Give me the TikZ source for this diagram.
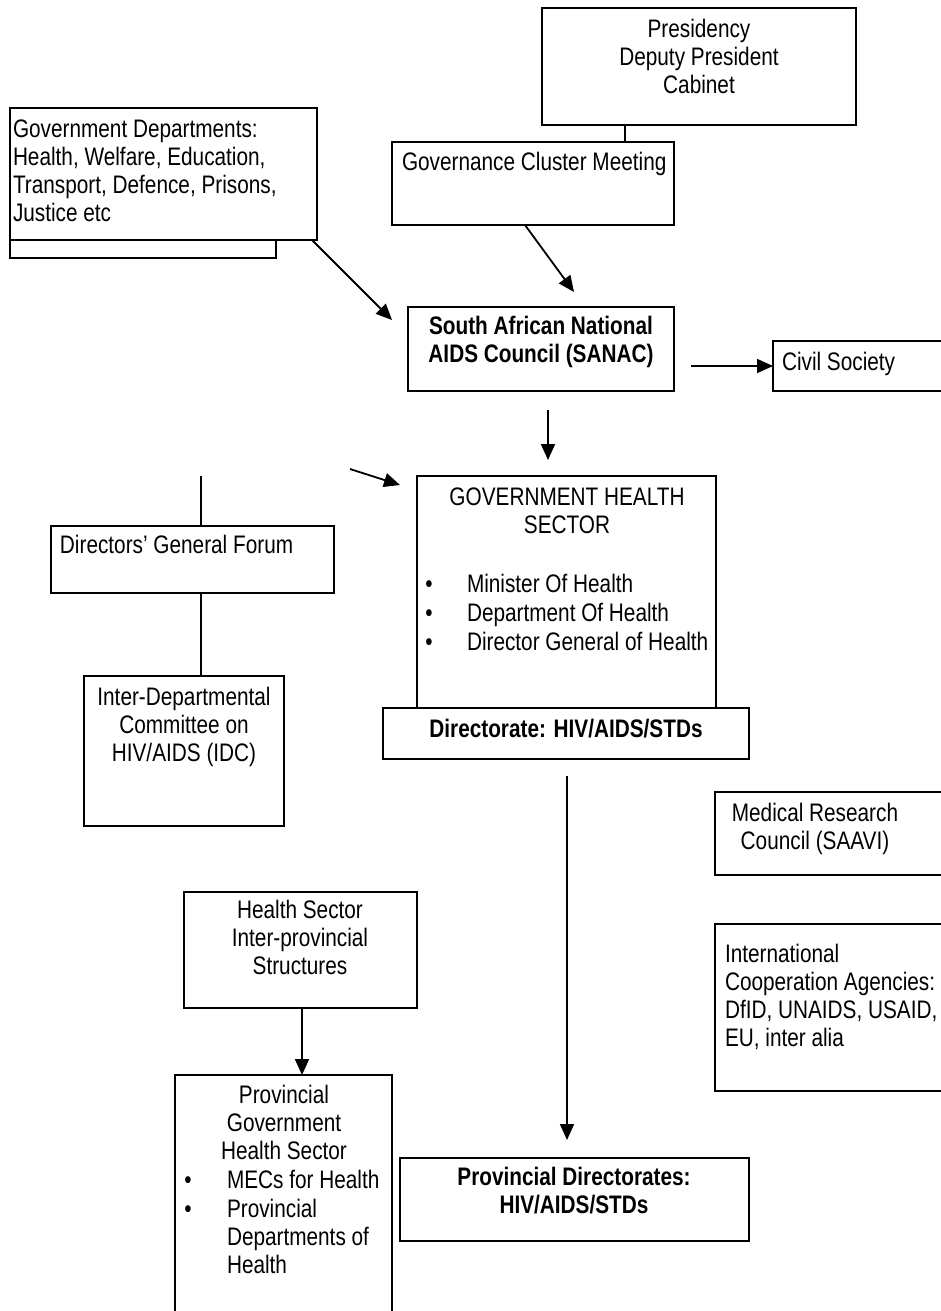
\documentclass[tikz,border=0pt]{standalone}
\usepackage{fontspec}
\setmainfont{Liberation Sans}[FakeStretch=0.82]
\usetikzlibrary{fit,arrows.meta}
\begin{document}
\begin{tikzpicture}[x=0.75pt,y=-0.75pt,
  every node/.style={inner sep=0pt, outer sep=0pt},
  txt/.style={font=\fontsize{19}{21}\selectfont},
  btxt/.style={font=\fontsize{19}{21}\selectfont\bfseries},
  box/.style={draw, line width=1.35pt, fit={#1}},
  conn/.style={line width=1.35pt},
  arr/.style={line width=1.35pt, -{Triangle[length=12pt,width=10.5pt]}}]
\useasboundingbox (0,0) rectangle (941,1311);
\clip (0,0) rectangle (941,1311);
% boxes
\node[box={(542,8)(856,125)}] (pres) {};
\node[box={(392,142)(674,225)}] (gov) {};
\node[box={(10,108)(317,240)}] (gd) {};
\node[box={(10,240)(276,258)}] (gdsub) {};
\node[box={(408,307)(674,391)}] (sanac) {};
\node[box={(773,341)(960,391)}] (civil) {};
\node[box={(51,526)(334,593)}] (dg) {};
\node[box={(84,676)(284,826)}] (idc) {};
\node[box={(417,476)(716,708)}] (hs) {};
\node[box={(383,708)(749,759)}] (dir) {};
\node[box={(715,792)(960,875)}] (mrc) {};
\node[box={(715,924)(960,1091)}] (ica) {};
\node[box={(184,892)(417,1008)}] (hsip) {};
\node[box={(175,1075)(392,1340)}] (pgov) {};
\node[box={(400,1158)(749,1241)}] (pdir) {};
% texts (multi-line nodes are placed by the baseline of their last line)
\node[txt, anchor=base, align=center] (tpres) at (699,93) {Presidency\\Deputy President\\Cabinet};
\node[txt, anchor=base west] (tgov) at (402,170) {Governance Cluster Meeting};
\node[txt, anchor=base west, align=left] (tgd) at (13,221) {Government Departments:\\Health, Welfare, Education,\\Transport, Defence, Prisons,\\Justice etc};
\node[btxt, anchor=base, align=center] (tsanac) at (541,362) {South African National\\AIDS Council (SANAC)};
\node[txt, anchor=base west] (tcivil) at (782,370) {Civil Society};
\node[txt, anchor=base west] (tdg) at (60,553) {Directors’ General Forum};
\node[txt, anchor=base, align=center] (tidc) at (184,761) {Inter-Departmental\\Committee on\\HIV/AIDS (IDC)};
\node[txt, anchor=base, align=center] (ths) at (567,533) {GOVERNMENT HEALTH\\SECTOR};
\node[txt, anchor=base] (b1) at (429,592) {•};
\node[txt, anchor=base] (b2) at (429,621) {•};
\node[txt, anchor=base] (b3) at (429,650) {•};
\node[txt, anchor=base west] (i1) at (467,592) {Minister Of Health};
\node[txt, anchor=base west] (i2) at (467,621) {Department Of Health};
\node[txt, anchor=base west] (i3) at (467,650) {Director General of Health};
\node[btxt, anchor=base] (tdir) at (566,737) {Directorate: HIV/AIDS/STDs};
\node[txt, anchor=base, align=center] (tmrc) at (815,849) {Medical Research\\Council (SAAVI)};
\node[txt, anchor=base west, align=left] (tica) at (725,1046) {International\\Cooperation Agencies:\\DfID, UNAIDS, USAID,\\EU, inter alia};
\node[txt, anchor=base, align=center] (thsip) at (300,974) {Health Sector\\Inter-provincial\\Structures};
\node[txt, anchor=base, align=center] (tpgov) at (284,1159) {Provincial\\Government\\Health Sector};
\node[txt, anchor=base] (b4) at (188,1188) {•};
\node[txt, anchor=base] (b5) at (188,1217) {•};
\node[txt, anchor=base west] (i4) at (227,1188) {MECs for Health};
\node[txt, anchor=base west, align=left] (i5) at (227,1273) {Provincial\\Departments of\\Health};
\node[btxt, anchor=base, align=center] (tpdir) at (574,1213) {Provincial Directorates:\\HIV/AIDS/STDs};
% connector coordinates
\coordinate (x625) at (625,0);
\coordinate (x525) at (525,0);
\coordinate (a1t) at (574,292);
\coordinate (x312) at (312,0);
\coordinate (a2t) at (392,320);
\coordinate (x691) at (691,0);
\coordinate (a4s) at (548,410);
\coordinate (a4t) at (548,460);
\coordinate (l1) at (201,476);
\coordinate (a5s) at (350,469);
\coordinate (a5t) at (400,485);
\coordinate (a6s) at (567,776);
\coordinate (a6t) at (567,1140);
\coordinate (x302) at (302,0);
% connectors
\draw[conn] (pres.south -| x625) -- (gov.north -| x625);
\draw[arr] (gov.south -| x525) -- (a1t);
\draw[arr] (gd.south -| x312) -- (a2t);
\draw[arr] (civil.west -| x691) -- (civil.west);
\draw[arr] (a4s) -- (a4t);
\draw[conn] (l1) -- (dg.north -| l1);
\draw[arr] (a5s) -- (a5t);
\draw[conn] (dg.south -| l1) -- (idc.north -| l1);
\draw[arr] (a6s) -- (a6t);
\draw[arr] (hsip.south -| x302) -- (pgov.north -| x302);
\end{tikzpicture}
\end{document}
